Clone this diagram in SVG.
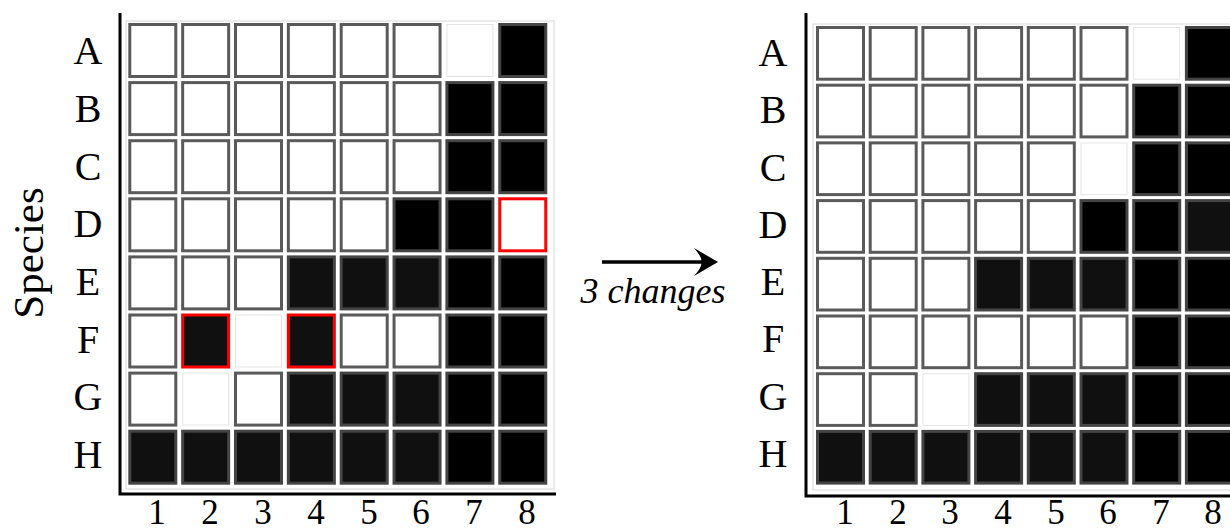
<svg xmlns="http://www.w3.org/2000/svg" width="1230" height="531" viewBox="0 0 1230 531">
<style>
.w{fill:#fff;stroke:#5a5a5a;stroke-width:3}
.nb{fill:#fff;stroke:#e4e4e4;stroke-width:1}
.k{fill:#101010;stroke:#444;stroke-width:3}
.k0{fill:#000;stroke:#444;stroke-width:3}
.rw{fill:#fff;stroke:#f00;stroke-width:3}
.rk{fill:#101010;stroke:#f00;stroke-width:3}
.serif{font-family:"Liberation Serif","DejaVu Serif","Noto Serif",serif;fill:#000;text-anchor:middle}
.lab{font-size:40px}
.num{font-size:35px}
.ax{stroke:#000;stroke-width:3;fill:none}
.frame{fill:none;stroke:#d8d8d8;stroke-width:1}
</style>
<rect width="1230" height="531" fill="#fff"/>

<g id="left-matrix">
<path class="ax" d="M120,13 V494 H556"/>
<rect class="frame" x="126" y="21" width="428" height="468"/>
<g transform="translate(128.3,23)">
<rect class="w" x="1.5" y="1.5" width="46" height="52"/><rect class="w" x="54.35" y="1.5" width="46" height="52"/><rect class="w" x="107.2" y="1.5" width="46" height="52"/><rect class="w" x="160.05" y="1.5" width="46" height="52"/><rect class="w" x="212.9" y="1.5" width="46" height="52"/><rect class="w" x="265.75" y="1.5" width="46" height="52"/><rect class="nb" x="318.6" y="1.5" width="46" height="52"/><rect class="k0" x="371.45" y="1.5" width="46" height="52"/>
<rect class="w" x="1.5" y="59.6" width="46" height="52"/><rect class="w" x="54.35" y="59.6" width="46" height="52"/><rect class="w" x="107.2" y="59.6" width="46" height="52"/><rect class="w" x="160.05" y="59.6" width="46" height="52"/><rect class="w" x="212.9" y="59.6" width="46" height="52"/><rect class="w" x="265.75" y="59.6" width="46" height="52"/><rect class="k0" x="318.6" y="59.6" width="46" height="52"/><rect class="k0" x="371.45" y="59.6" width="46" height="52"/>
<rect class="w" x="1.5" y="117.7" width="46" height="52"/><rect class="w" x="54.35" y="117.7" width="46" height="52"/><rect class="w" x="107.2" y="117.7" width="46" height="52"/><rect class="w" x="160.05" y="117.7" width="46" height="52"/><rect class="w" x="212.9" y="117.7" width="46" height="52"/><rect class="w" x="265.75" y="117.7" width="46" height="52"/><rect class="k0" x="318.6" y="117.7" width="46" height="52"/><rect class="k0" x="371.45" y="117.7" width="46" height="52"/>
<rect class="w" x="1.5" y="175.8" width="46" height="52"/><rect class="w" x="54.35" y="175.8" width="46" height="52"/><rect class="w" x="107.2" y="175.8" width="46" height="52"/><rect class="w" x="160.05" y="175.8" width="46" height="52"/><rect class="w" x="212.9" y="175.8" width="46" height="52"/><rect class="k0" x="265.75" y="175.8" width="46" height="52"/><rect class="k0" x="318.6" y="175.8" width="46" height="52"/><rect class="rw" x="371.45" y="175.8" width="46" height="52"/>
<rect class="w" x="1.5" y="233.9" width="46" height="52"/><rect class="w" x="54.35" y="233.9" width="46" height="52"/><rect class="w" x="107.2" y="233.9" width="46" height="52"/><rect class="k" x="160.05" y="233.9" width="46" height="52"/><rect class="k" x="212.9" y="233.9" width="46" height="52"/><rect class="k" x="265.75" y="233.9" width="46" height="52"/><rect class="k0" x="318.6" y="233.9" width="46" height="52"/><rect class="k0" x="371.45" y="233.9" width="46" height="52"/>
<rect class="w" x="1.5" y="292" width="46" height="52"/><rect class="rk" x="54.35" y="292" width="46" height="52"/><rect class="nb" x="107.2" y="292" width="46" height="52"/><rect class="rk" x="160.05" y="292" width="46" height="52"/><rect class="w" x="212.9" y="292" width="46" height="52"/><rect class="w" x="265.75" y="292" width="46" height="52"/><rect class="k0" x="318.6" y="292" width="46" height="52"/><rect class="k0" x="371.45" y="292" width="46" height="52"/>
<rect class="w" x="1.5" y="350.1" width="46" height="52"/><rect class="nb" x="54.35" y="350.1" width="46" height="52"/><rect class="w" x="107.2" y="350.1" width="46" height="52"/><rect class="k" x="160.05" y="350.1" width="46" height="52"/><rect class="k" x="212.9" y="350.1" width="46" height="52"/><rect class="k" x="265.75" y="350.1" width="46" height="52"/><rect class="k0" x="318.6" y="350.1" width="46" height="52"/><rect class="k0" x="371.45" y="350.1" width="46" height="52"/>
<rect class="k" x="1.5" y="408.2" width="46" height="52"/><rect class="k" x="54.35" y="408.2" width="46" height="52"/><rect class="k" x="107.2" y="408.2" width="46" height="52"/><rect class="k" x="160.05" y="408.2" width="46" height="52"/><rect class="k" x="212.9" y="408.2" width="46" height="52"/><rect class="k" x="265.75" y="408.2" width="46" height="52"/><rect class="k0" x="318.6" y="408.2" width="46" height="52"/><rect class="k0" x="371.45" y="408.2" width="46" height="52"/>
</g>
<g class="serif lab">
<text x="88" y="64">A</text><text x="88" y="122">B</text><text x="88" y="180">C</text><text x="88" y="237">D</text><text x="88" y="295">E</text><text x="88" y="353">F</text><text x="88" y="410">G</text><text x="88" y="468">H</text>
</g>
<g class="serif num">
<text x="157" y="524">1</text><text x="210" y="524">2</text><text x="263" y="524">3</text><text x="316" y="524">4</text><text x="369" y="524">5</text><text x="421" y="524">6</text><text x="474" y="524">7</text><text x="527" y="524">8</text>
</g>
</g>

<g id="species-label">
<text class="serif" transform="translate(43,253) rotate(-90)" x="0" y="0" style="font-size:43px">Species</text>
</g>

<g id="connectors">
<path d="M602,262 H710" stroke="#000" stroke-width="3.5" fill="none"/>
<path d="M718,262 L694,248 Q703,258 701,262 Q703,266 694,276 Z" fill="#000"/>
<text class="serif" x="653" y="303" style="font-size:36px;font-style:italic">3 changes</text>
</g>

<g id="right-matrix">
<path class="ax" d="M806,13 V496 H1230"/>
<rect class="frame" x="813" y="24" width="430" height="466"/>
<g transform="translate(816,26)">
<rect class="w" x="1.5" y="1.5" width="46" height="51.7"/><rect class="w" x="54.2" y="1.5" width="46" height="51.7"/><rect class="w" x="106.9" y="1.5" width="46" height="51.7"/><rect class="w" x="159.6" y="1.5" width="46" height="51.7"/><rect class="w" x="212.3" y="1.5" width="46" height="51.7"/><rect class="w" x="265" y="1.5" width="46" height="51.7"/><rect class="nb" x="317.7" y="1.5" width="46" height="51.7"/><rect class="k0" x="370.4" y="1.5" width="46" height="51.7"/>
<rect class="w" x="1.5" y="59.2" width="46" height="51.7"/><rect class="w" x="54.2" y="59.2" width="46" height="51.7"/><rect class="w" x="106.9" y="59.2" width="46" height="51.7"/><rect class="w" x="159.6" y="59.2" width="46" height="51.7"/><rect class="w" x="212.3" y="59.2" width="46" height="51.7"/><rect class="w" x="265" y="59.2" width="46" height="51.7"/><rect class="k0" x="317.7" y="59.2" width="46" height="51.7"/><rect class="k0" x="370.4" y="59.2" width="46" height="51.7"/>
<rect class="w" x="1.5" y="116.9" width="46" height="51.7"/><rect class="w" x="54.2" y="116.9" width="46" height="51.7"/><rect class="w" x="106.9" y="116.9" width="46" height="51.7"/><rect class="w" x="159.6" y="116.9" width="46" height="51.7"/><rect class="w" x="212.3" y="116.9" width="46" height="51.7"/><rect class="nb" x="265" y="116.9" width="46" height="51.7"/><rect class="k0" x="317.7" y="116.9" width="46" height="51.7"/><rect class="k0" x="370.4" y="116.9" width="46" height="51.7"/>
<rect class="w" x="1.5" y="174.6" width="46" height="51.7"/><rect class="w" x="54.2" y="174.6" width="46" height="51.7"/><rect class="w" x="106.9" y="174.6" width="46" height="51.7"/><rect class="w" x="159.6" y="174.6" width="46" height="51.7"/><rect class="w" x="212.3" y="174.6" width="46" height="51.7"/><rect class="k0" x="265" y="174.6" width="46" height="51.7"/><rect class="k0" x="317.7" y="174.6" width="46" height="51.7"/><rect class="k" x="370.4" y="174.6" width="46" height="51.7"/>
<rect class="w" x="1.5" y="232.3" width="46" height="51.7"/><rect class="w" x="54.2" y="232.3" width="46" height="51.7"/><rect class="w" x="106.9" y="232.3" width="46" height="51.7"/><rect class="k" x="159.6" y="232.3" width="46" height="51.7"/><rect class="k" x="212.3" y="232.3" width="46" height="51.7"/><rect class="k" x="265" y="232.3" width="46" height="51.7"/><rect class="k0" x="317.7" y="232.3" width="46" height="51.7"/><rect class="k0" x="370.4" y="232.3" width="46" height="51.7"/>
<rect class="w" x="1.5" y="290" width="46" height="51.7"/><rect class="w" x="54.2" y="290" width="46" height="51.7"/><rect class="w" x="106.9" y="290" width="46" height="51.7"/><rect class="w" x="159.6" y="290" width="46" height="51.7"/><rect class="w" x="212.3" y="290" width="46" height="51.7"/><rect class="w" x="265" y="290" width="46" height="51.7"/><rect class="k0" x="317.7" y="290" width="46" height="51.7"/><rect class="k0" x="370.4" y="290" width="46" height="51.7"/>
<rect class="w" x="1.5" y="347.7" width="46" height="51.7"/><rect class="w" x="54.2" y="347.7" width="46" height="51.7"/><rect class="nb" x="106.9" y="347.7" width="46" height="51.7"/><rect class="k" x="159.6" y="347.7" width="46" height="51.7"/><rect class="k" x="212.3" y="347.7" width="46" height="51.7"/><rect class="k" x="265" y="347.7" width="46" height="51.7"/><rect class="k0" x="317.7" y="347.7" width="46" height="51.7"/><rect class="k0" x="370.4" y="347.7" width="46" height="51.7"/>
<rect class="k" x="1.5" y="405.4" width="46" height="51.7"/><rect class="k" x="54.2" y="405.4" width="46" height="51.7"/><rect class="k" x="106.9" y="405.4" width="46" height="51.7"/><rect class="k" x="159.6" y="405.4" width="46" height="51.7"/><rect class="k" x="212.3" y="405.4" width="46" height="51.7"/><rect class="k" x="265" y="405.4" width="46" height="51.7"/><rect class="k0" x="317.7" y="405.4" width="46" height="51.7"/><rect class="k0" x="370.4" y="405.4" width="46" height="51.7"/>
</g>
<g class="serif lab">
<text x="773" y="66">A</text><text x="773" y="123">B</text><text x="773" y="181">C</text><text x="773" y="238">D</text><text x="773" y="295">E</text><text x="773" y="352">F</text><text x="773" y="410">G</text><text x="773" y="467">H</text>
</g>
<g class="serif num">
<text x="845" y="524">1</text><text x="898" y="524">2</text><text x="950" y="524">3</text><text x="1003" y="524">4</text><text x="1056" y="524">5</text><text x="1108" y="524">6</text><text x="1161" y="524">7</text><text x="1213" y="524">8</text>
</g>
</g>
</svg>
